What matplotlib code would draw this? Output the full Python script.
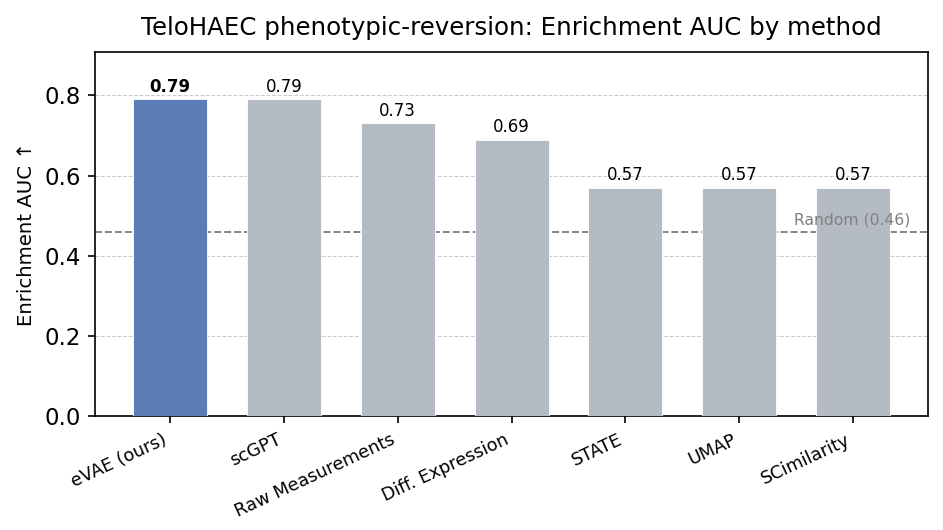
import numpy as np
import matplotlib.pyplot as plt

methods = ['eVAE (ours)', 'scGPT', 'Raw Measurements', 'Diff. Expression',
           'STATE', 'UMAP', 'SCimilarity']
auc = [0.79, 0.79, 0.73, 0.69, 0.57, 0.57, 0.57]
random_auc = 0.46

colors = ['#5a7db5'] + ['#b4bbc5'] * (len(methods) - 1)

fig, ax = plt.subplots(figsize=(943 / 150, 530 / 150), dpi=150)
x = np.arange(len(methods))
bars = ax.bar(x, auc, width=0.65, color=colors, edgecolor='white', linewidth=0.4, zorder=3)

for i, (b, v) in enumerate(zip(bars, auc)):
    ax.text(b.get_x() + b.get_width() / 2, v + 0.008, f'{v:.2f}',
            ha='center', va='bottom', fontsize=8,
            fontweight='bold' if i == 0 else 'normal', zorder=4)

ax.axhline(random_auc, color='gray', linestyle='--', linewidth=0.9, zorder=2)
ax.text(len(methods) - 0.5, random_auc + 0.01, f'Random ({random_auc:.2f})',
        ha='right', va='bottom', fontsize=7.5, color='gray')

ax.set_ylim(0, max(auc) * 1.15)
ax.set_xticks(x)
ax.set_xticklabels(methods, rotation=25, ha='right', fontsize=8.5)
ax.tick_params(axis='y', labelsize=11)
ax.set_ylabel('Enrichment AUC ↑', fontsize=9.5)
ax.set_title('TeloHAEC phenotypic-reversion: Enrichment AUC by method', fontsize=11.75, pad=8)
ax.yaxis.grid(True, linestyle='--', linewidth=0.5, color='#cccccc', zorder=0)
ax.set_axisbelow(True)

fig.subplots_adjust(left=0.101, right=0.984, top=0.902, bottom=0.215)
fig.savefig('out.png', dpi=150)
